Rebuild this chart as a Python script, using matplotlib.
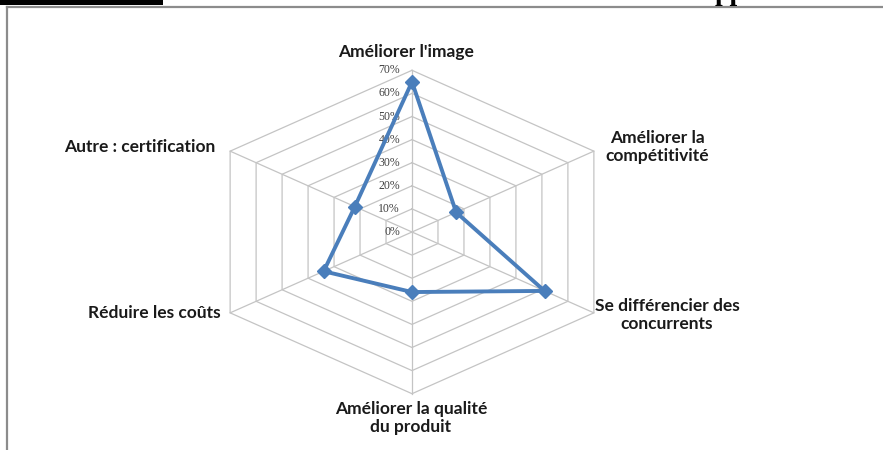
import numpy as np
import matplotlib.pyplot as plt
from matplotlib.lines import Line2D
from matplotlib.patches import Rectangle

# données du graphique radar
categories = ["Améliorer l'image", "Améliorer la\ncompétitivité",
              "Se différencier des\nconcurrents", "Améliorer la qualité\ndu produit",
              "Réduire les coûts", "Autre : certification"]
values = [65, 17, 51, 26, 34, 22]
ticks = [0, 10, 20, 30, 40, 50, 60, 70]
tick_labels = [f"{t}%" for t in ticks]

# géométrie (pixels de l'image 883x450)
W, H = 883, 450
cx, cy = 412, 232          # centre du radar
sx, sy = 3.0, 2.31         # pixels par point de % (horizontal étiré)

fig = plt.figure(figsize=(W / 100, H / 100), dpi=100)
ax = fig.add_axes([0, 0, 1, 1])
ax.set_xlim(-cx / sx, (W - cx) / sx)
ax.set_ylim(-(H - cy) / sy, cy / sy)
ax.axis('off')

n = len(categories)
angles = np.deg2rad(90 - 60 * np.arange(n))

# grille hexagonale
for t in ticks[1:]:
    xs = [t * np.cos(a) for a in angles] + [t * np.cos(angles[0])]
    ys = [t * np.sin(a) for a in angles] + [t * np.sin(angles[0])]
    ax.plot(xs, ys, color='#c4c4c4', lw=0.9, zorder=1)
for a in angles:
    ax.plot([0, 70 * np.cos(a)], [0, 70 * np.sin(a)], color='#c4c4c4', lw=0.9, zorder=1)

# étiquettes de l'axe radial
for t, lab in zip(ticks, tick_labels):
    ax.text(-4, t, lab, ha='right', va='center', fontsize=8.5,
            family='Liberation Serif', color='#404040', zorder=2)

# série
xs = [v * np.cos(a) for v, a in zip(values, angles)]
ys = [v * np.sin(a) for v, a in zip(values, angles)]
ax.plot(xs + xs[:1], ys + ys[:1], color='#4a7ebb', lw=2.8, zorder=3)
ax.plot(xs, ys, 'D', color='#4a7ebb', markersize=7, zorder=4)

# étiquettes des catégories (positions en pixels)
label_pos = [(406, 52, 'center'), (657, 147, 'center'), (667, 315, 'center'),
             (411, 418, 'center'), (221, 313, 'right'), (215, 147, 'right')]
for lab, (px, py, ha) in zip(categories, label_pos):
    ax.text((px - cx) / sx, (cy - py) / sy, lab, ha=ha, va='center',
            fontsize=12.5, fontweight='bold', family='Lato', color='#1a1a1a',
            linespacing=1.15)

# cadre et restes du titre coupé
fig.add_artist(Line2D([7 / W, 7 / W], [0, 1 - 7 / H], transform=fig.transFigure,
                      color='#8c8c8c', lw=1.6))
fig.add_artist(Line2D([7 / W, 1], [1 - 7 / H, 1 - 7 / H], transform=fig.transFigure,
                      color='#8c8c8c', lw=1.6))
fig.add_artist(Rectangle((0, 1 - 5 / H), 163 / W, 5 / H, transform=fig.transFigure,
                         color='black', lw=0))
fig.text(715 / W, 1.0, "pp", ha='left', va='baseline', fontsize=20,
         fontweight='bold', family='Liberation Serif', color='black')

plt.savefig("out.png", dpi=100)
